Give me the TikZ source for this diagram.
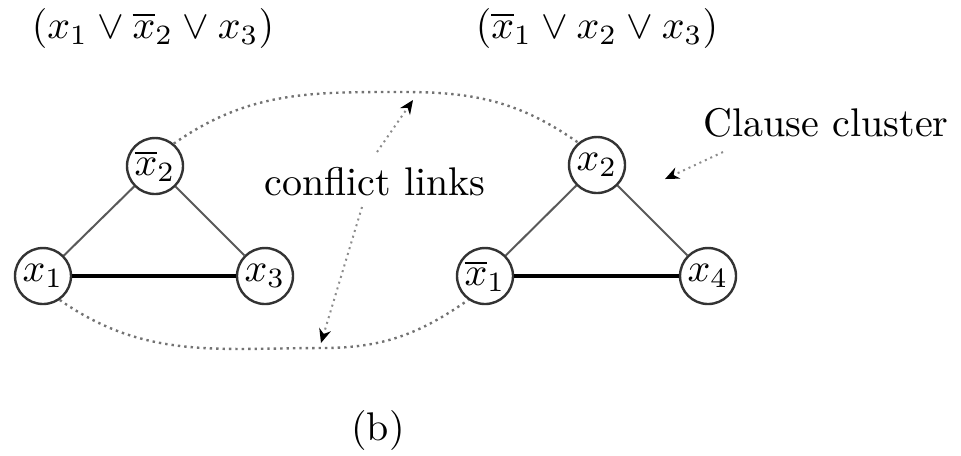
\documentclass[tikz,border=0pt]{standalone}
\usetikzlibrary{arrows.meta}
\begin{document}
\begin{tikzpicture}[x=0.25pt,y=-0.25pt,
  lit/.style={circle,draw=black!80,line width=0.6pt,minimum size=14pt,inner sep=0pt},
  rim/.style={draw=black!65,line width=0.5pt},
  mainedge/.style={draw=black,line width=0.8pt},
  conflict/.style={draw=black!55,densely dotted,line width=0.6pt},
  pointer/.style={draw=black!45,densely dotted,line width=0.5pt,-{Stealth[length=3.5pt,width=3pt,black]}}]
\useasboundingbox (0,0) rectangle (961,455);

% clause formulas
\node[anchor=base] (f1) at (153,38) {$(x_1 \vee \overline{x}_2 \vee x_3)$};
\node[anchor=base] (f2) at (597,38) {$(\overline{x}_1 \vee x_2 \vee x_3)$};

% first clause cluster
\node[lit] (a2) at (155,166) {$\overline{x}_2$};
\node[lit] (a1) at (43,276) {$x_1$};
\node[lit] (a3) at (265,276) {$x_3$};
\draw[rim] (a2) -- (a1);
\draw[rim] (a2) -- (a3);
\draw[mainedge] (a1) -- (a3);

% second clause cluster
\node[lit] (b2) at (597,165) {$x_2$};
\node[lit] (b1) at (485,276) {$\overline{x}_1$};
\node[lit] (b4) at (708,276) {$x_4$};
\draw[rim] (b2) -- (b1);
\draw[rim] (b2) -- (b4);
\draw[mainedge] (b1) -- (b4);

% conflict links between complementary literals
\coordinate (top) at (405,92);
\coordinate (bot) at (322,348);
\draw[conflict] (a2.50) to[out=35,in=180] (top) to[out=0,in=145] (b2.130);
\draw[conflict] (a1.-55) to[out=-35,in=180] (bot) to[out=0,in=-145] (b1.-125);

% labels
\node (cl) at (375,182) {conflict links};
\draw[pointer] (377,152) -- (413,100);
\draw[pointer] (362,207) -- (321,343);

\node[anchor=base] (cc) at (826,136) {Clause cluster};
\coordinate (ccp) at (665,179);
\draw[pointer] (723,152) -- (ccp);

\node (cap) at (378,430) {(b)};
\end{tikzpicture}
\end{document}
